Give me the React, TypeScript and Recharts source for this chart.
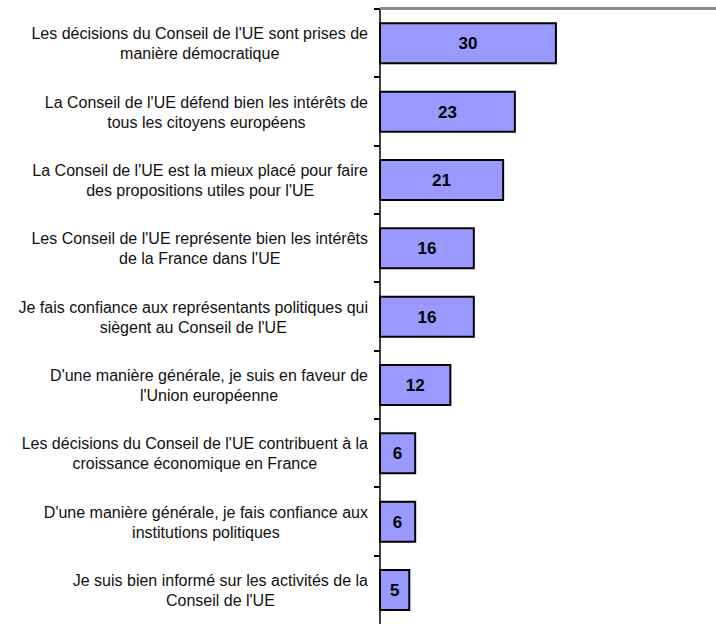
import { BarChart, Bar, XAxis, YAxis, LabelList } from "recharts";

const categories = [
  "Les décisions du Conseil de l'UE sont prises de\nmanière démocratique",
  "La Conseil de l'UE défend bien les intérêts de\ntous les citoyens européens",
  "La Conseil de l'UE est la mieux placé pour faire\ndes propositions utiles pour l'UE",
  "Les Conseil de l'UE représente bien les intérêts\nde la France dans l'UE",
  "Je fais confiance aux représentants politiques qui\nsiègent au Conseil de l'UE",
  "D'une manière générale, je suis en faveur de\nl'Union européenne",
  "Les décisions du Conseil de l'UE contribuent à la\ncroissance économique en France",
  "D'une manière générale, je fais confiance aux\ninstitutions politiques",
  "Je suis bien informé sur les activités de la\nConseil de l'UE",
];
const values = [30, 23, 21, 16, 16, 12, 6, 6, 5];

const data = categories.map((name, i) => ({ name, value: values[i] }));

const FONT = "'Liberation Sans', Arial, sans-serif";
const TOP = 9;
const HEIGHT = 624;
const WIDTH = 716;
const AXIS_W = 380;
const BAND = (HEIGHT - TOP) / categories.length;

let ctx: CanvasRenderingContext2D | null = null;
const measure = (s: string) => {
  if (!ctx) {
    ctx = document.createElement("canvas").getContext("2d");
    if (ctx) ctx.font = `16px ${FONT}`;
  }
  return ctx ? ctx.measureText(s).width : s.length * 7;
};

// label block right-aligned, lines centred on the widest one
// ticks and the top border are drawn as rects here
const CategoryTick = ({ y, payload, index }: any) => {
  const lines: string[] = String(payload.value).split("\n");
  const w = Math.max(...lines.map(measure));
  const cx = AXIS_W - 12 - w / 2;
  const ty = Math.round(Number(y) - BAND / 2);
  return (
    <g>
      <rect x={AXIS_W - 6} y={ty - 1} width={6} height={2} fill="#000" />
      {index === 0 && (
        <rect x={AXIS_W} y={TOP - 2} width={WIDTH - AXIS_W} height={3} fill="#8c8c8c" />
      )}
      <text
        x={cx}
        y={Number(y) - 10 * (lines.length - 1)}
        textAnchor="middle"
        dominantBaseline="central"
        fontSize={16}
        fontFamily={FONT}
        fill="#111"
      >
        {lines.map((l, i) => (
          <tspan key={i} x={cx} dy={i === 0 ? 0 : 20}>
            {l}
          </tspan>
        ))}
      </text>
    </g>
  );
};

export default function App() {
  return (
    <div style={{ position: "absolute", left: 0, top: 0, background: "#fff" }}>
      <BarChart
        width={WIDTH}
        height={HEIGHT}
        data={data}
        layout="vertical"
        margin={{ top: TOP, right: 0, bottom: 0, left: 0 }}
        barCategoryGap="21%"
      >
        <XAxis type="number" domain={[0, 57.3]} hide />
        <YAxis
          type="category"
          dataKey="name"
          width={AXIS_W}
          tickLine={false}
          axisLine={{ stroke: "#000", strokeWidth: 1.5 }}
          tick={<CategoryTick />}
          interval={0}
        />
        <Bar
          dataKey="value"
          fill="#9999FF"
          stroke="#000"
          strokeWidth={2}
          isAnimationActive={false}
        >
          <LabelList
            dataKey="value"
            position="center"
            fill="#000"
            fontSize={17}
            fontWeight="bold"
            fontFamily={FONT}
          />
        </Bar>
      </BarChart>
    </div>
  );
}
